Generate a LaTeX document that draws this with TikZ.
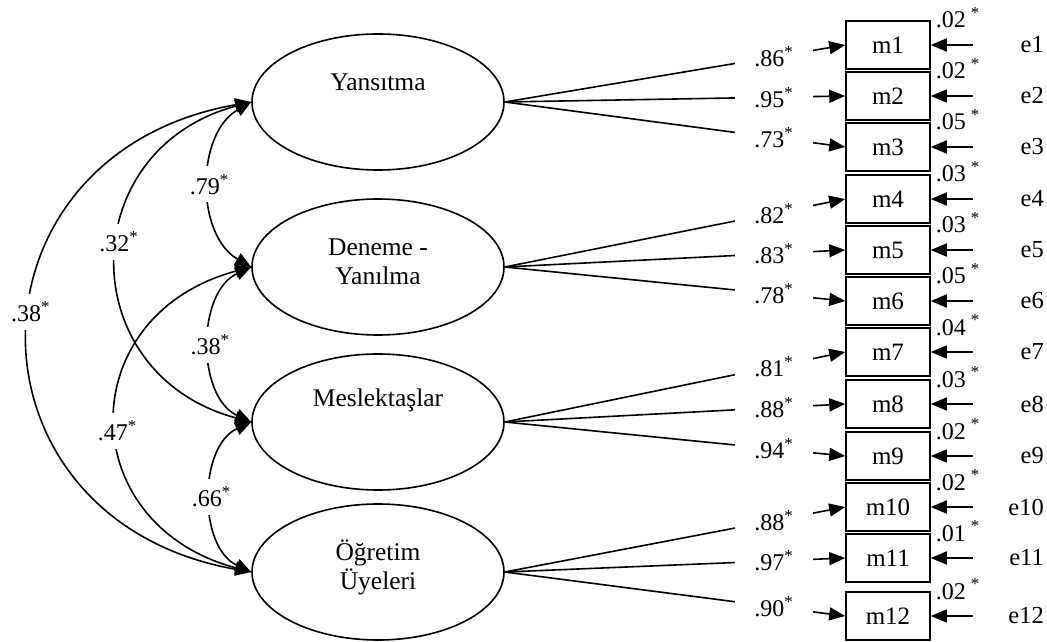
\documentclass[tikz,border=0pt]{standalone}
\usepackage{fontspec}
\setmainfont{Liberation Serif}
\usepackage{tikz}
\usetikzlibrary{arrows.meta,shapes.geometric}

\begin{document}
\begin{tikzpicture}[
  x=1pt, y=1pt,
  latent/.style={ellipse, draw=black, line width=1.6pt, minimum width=252pt, minimum height=136pt, inner sep=0pt},
  lattxt/.style={align=center, inner sep=0pt, font={\fontsize{25.5}{29}\selectfont}},
  obs/.style={rectangle, draw=black, line width=1.5pt, minimum width=84pt, minimum height=48pt, inner sep=0pt, font={\fontsize{25}{28}\selectfont}},
  enode/.style={text width=42pt, align=right, inner sep=0pt, anchor=east, font={\fontsize{24.5}{28}\selectfont}},
  evar/.style={inner sep=0pt, anchor=base west, font={\fontsize{24}{28}\selectfont}},
  loadlbl/.style={fill=white, minimum width=78pt, minimum height=28pt, inner sep=0pt, font={\fontsize{24}{28}\selectfont}},
  corrlbl/.style={fill=white, minimum width=60pt, minimum height=36pt, inner sep=0pt, font={\fontsize{24}{28}\selectfont}},
  load/.style={line width=1.6pt, -{Triangle[length=16pt,width=13pt]}},
  errarr/.style={line width=1.6pt, -{Triangle[length=16pt,width=13pt]}, shorten <=29pt},
  corr/.style={line width=1.6pt, {Triangle[length=16pt,width=13pt]}-{Triangle[length=16pt,width=13pt]}}
]
\useasboundingbox (0,0) rectangle (1047,641);
% latent factors
\node[latent] (yans) at (378,539) {};
\node[latent] (den) at (378,374) {};
\node[latent] (mesl) at (378,219) {};
\node[latent] (ogr) at (378,69) {};
\node[lattxt] (yans-t) at ([yshift=20pt]yans.center) {Yansıtma};
\node[lattxt] (den-t) at ([yshift=5pt]den.center) {Deneme -\\Yanılma};
\node[lattxt] (mesl-t) at ([yshift=22pt]mesl.center) {Meslektaşlar};
\node[lattxt] (ogr-t) at ([yshift=5pt]ogr.center) {Öğretim\\Üyeleri};
% observed items
\node[obs] (m1) at (888,596) {m1};
\node[obs] (m2) at (888,545) {m2};
\node[obs] (m3) at (888,494) {m3};
\node[obs] (m4) at (888,442) {m4};
\node[obs] (m5) at (888,391) {m5};
\node[obs] (m6) at (888,340) {m6};
\node[obs] (m7) at (888,289) {m7};
\node[obs] (m8) at (888,237) {m8};
\node[obs] (m9) at (888,185) {m9};
\node[obs] (m10) at (888,134) {m10};
\node[obs] (m11) at (888,83) {m11};
\node[obs] (m12) at (888,25) {m12};
% error terms
\node[enode] (e1) at (1044,596) {e1};
\node[enode] (e2) at (1044,545) {e2};
\node[enode] (e3) at (1044,494) {e3};
\node[enode] (e4) at (1044,442) {e4};
\node[enode] (e5) at (1044,391) {e5};
\node[enode] (e6) at (1044,340) {e6};
\node[enode] (e7) at (1044,289) {e7};
\node[enode] (e8) at (1044,237) {e8};
\node[enode] (e9) at (1044,185) {e9};
\node[enode] (e10) at (1044,134) {e10};
\node[enode] (e11) at (1044,83) {e11};
\node[enode] (e12) at (1044,25) {e12};
\draw[errarr] (e1) -- (m1.east);
\draw[errarr] (e2) -- (m2.east);
\draw[errarr] (e3) -- (m3.east);
\draw[errarr] (e4) -- (m4.east);
\draw[errarr] (e5) -- (m5.east);
\draw[errarr] (e6) -- (m6.east);
\draw[errarr] (e7) -- (m7.east);
\draw[errarr] (e8) -- (m8.east);
\draw[errarr] (e9) -- (m9.east);
\draw[errarr] (e10) -- (m10.east);
\draw[errarr] (e11) -- (m11.east);
\draw[errarr] (e12) -- (m12.east);
\node[evar] (v1) at ([xshift=5pt,yshift=17pt]m1.east) {.02\hspace{5pt}\textsuperscript{*}};
\node[evar] (v2) at ([xshift=5pt,yshift=17pt]m2.east) {.02\hspace{5pt}\textsuperscript{*}};
\node[evar] (v3) at ([xshift=5pt,yshift=17pt]m3.east) {.05\hspace{5pt}\textsuperscript{*}};
\node[evar] (v4) at ([xshift=5pt,yshift=17pt]m4.east) {.03\hspace{5pt}\textsuperscript{*}};
\node[evar] (v5) at ([xshift=5pt,yshift=17pt]m5.east) {.03\hspace{5pt}\textsuperscript{*}};
\node[evar] (v6) at ([xshift=5pt,yshift=17pt]m6.east) {.05\hspace{5pt}\textsuperscript{*}};
\node[evar] (v7) at ([xshift=5pt,yshift=17pt]m7.east) {.04\hspace{5pt}\textsuperscript{*}};
\node[evar] (v8) at ([xshift=5pt,yshift=17pt]m8.east) {.03\hspace{5pt}\textsuperscript{*}};
\node[evar] (v9) at ([xshift=5pt,yshift=17pt]m9.east) {.02\hspace{5pt}\textsuperscript{*}};
\node[evar] (v10) at ([xshift=5pt,yshift=17pt]m10.east) {.02\hspace{5pt}\textsuperscript{*}};
\node[evar] (v11) at ([xshift=5pt,yshift=17pt]m11.east) {.01\hspace{5pt}\textsuperscript{*}};
\node[evar] (v12) at ([xshift=5pt,yshift=17pt]m12.east) {.02\hspace{5pt}\textsuperscript{*}};
% factor loadings
\draw[load] (yans.east) -- node[loadlbl, pos=0.79] (l1) {.86\textsuperscript{*}} (m1.west);
\draw[load] (yans.east) -- node[loadlbl, pos=0.79] (l2) {.95\textsuperscript{*}} (m2.west);
\draw[load] (yans.east) -- node[loadlbl, pos=0.79] (l3) {.73\textsuperscript{*}} (m3.west);
\draw[load] (den.east) -- node[loadlbl, pos=0.79] (l4) {.82\textsuperscript{*}} (m4.west);
\draw[load] (den.east) -- node[loadlbl, pos=0.79] (l5) {.83\textsuperscript{*}} (m5.west);
\draw[load] (den.east) -- node[loadlbl, pos=0.79] (l6) {.78\textsuperscript{*}} (m6.west);
\draw[load] (mesl.east) -- node[loadlbl, pos=0.79] (l7) {.81\textsuperscript{*}} (m7.west);
\draw[load] (mesl.east) -- node[loadlbl, pos=0.79] (l8) {.88\textsuperscript{*}} (m8.west);
\draw[load] (mesl.east) -- node[loadlbl, pos=0.79] (l9) {.94\textsuperscript{*}} (m9.west);
\draw[load] (ogr.east) -- node[loadlbl, pos=0.79] (l10) {.88\textsuperscript{*}} (m10.west);
\draw[load] (ogr.east) -- node[loadlbl, pos=0.79] (l11) {.97\textsuperscript{*}} (m11.west);
\draw[load] (ogr.east) -- node[loadlbl, pos=0.79] (l12) {.90\textsuperscript{*}} (m12.west);
% correlations
\draw[corr] (yans.west) to[out=190, in=170, looseness=1.64] node[corrlbl, pos=0.46] (c6) {.38\textsuperscript{*}} (ogr.west);
\draw[corr] (yans.west) to[out=195, in=165, looseness=1.48] node[corrlbl, pos=0.45] (c2) {.32\textsuperscript{*}} (mesl.west);
\draw[corr] (den.west) to[out=195, in=165, looseness=1.56] node[corrlbl, pos=0.53] (c4) {.47\textsuperscript{*}} (ogr.west);
\draw[corr] (yans.west) to[bend right=60] node[corrlbl] (c1) {.79\textsuperscript{*}} (den.west);
\draw[corr] (den.west) to[bend right=65] node[corrlbl] (c3) {.38\textsuperscript{*}} (mesl.west);
\draw[corr] (mesl.west) to[bend right=65] node[corrlbl] (c5) {.66\textsuperscript{*}} (ogr.west);
\end{tikzpicture}
\end{document}
